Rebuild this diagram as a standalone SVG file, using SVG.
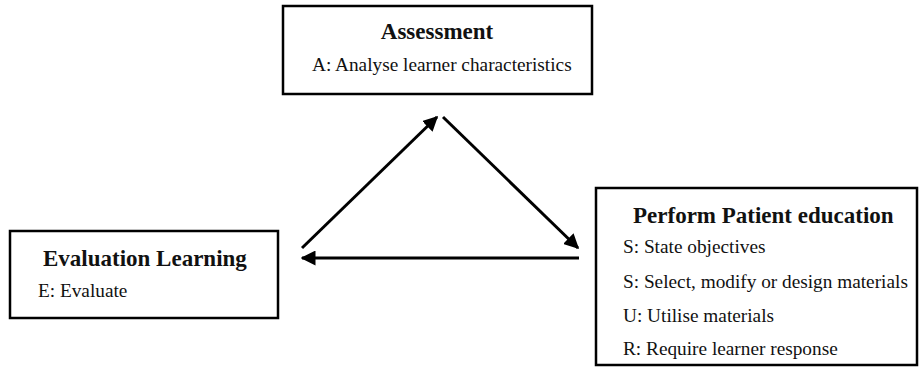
<svg xmlns="http://www.w3.org/2000/svg" width="921" height="367" viewBox="0 0 921 367">
<defs>
<style>
.box{fill:#fff;stroke:#000;stroke-width:2.5}
text{font-family:'Liberation Serif','Times New Roman',serif;fill:#111}
.h{font-size:23px;font-weight:bold}
.b{font-size:19.3px}
.c{fill:none;stroke:#000;stroke-width:3}
</style>
<marker id="ah" viewBox="0 0 10 10" refX="9" refY="5" markerWidth="5" markerHeight="5" markerUnits="strokeWidth" orient="auto">
<path d="M0,0 L10,5 L0,10 z" fill="#000"/>
</marker>
</defs>
<rect width="921" height="367" fill="#fff"/>
<g id="assessment">
<rect class="box" x="283" y="6" width="309" height="88"/>
<text class="h" x="437" y="39" text-anchor="middle">Assessment</text>
<text class="b" x="312" y="71">A: Analyse learner characteristics</text>
</g>
<g id="evaluation">
<rect class="box" x="10" y="231" width="268" height="87"/>
<text class="h" x="43" y="266">Evaluation Learning</text>
<text class="b" x="38" y="297">E: Evaluate</text>
</g>
<g id="perform">
<rect class="box" x="596" y="188" width="321" height="177"/>
<text class="h" x="633" y="223">Perform Patient education</text>
<text class="b" x="623" y="253">S: State objectives</text>
<text class="b" x="623" y="288">S: Select, modify or design materials</text>
<text class="b" x="623" y="322">U: Utilise materials</text>
<text class="b" x="623" y="355">R: Require learner response</text>
</g>
<g id="connectors">
<line class="c" x1="302" y1="248" x2="437" y2="117" marker-end="url(#ah)"/>
<line class="c" x1="443" y1="117" x2="578" y2="248" marker-end="url(#ah)"/>
<line class="c" x1="579" y1="258" x2="302" y2="258" marker-end="url(#ah)"/>
</g>
</svg>
